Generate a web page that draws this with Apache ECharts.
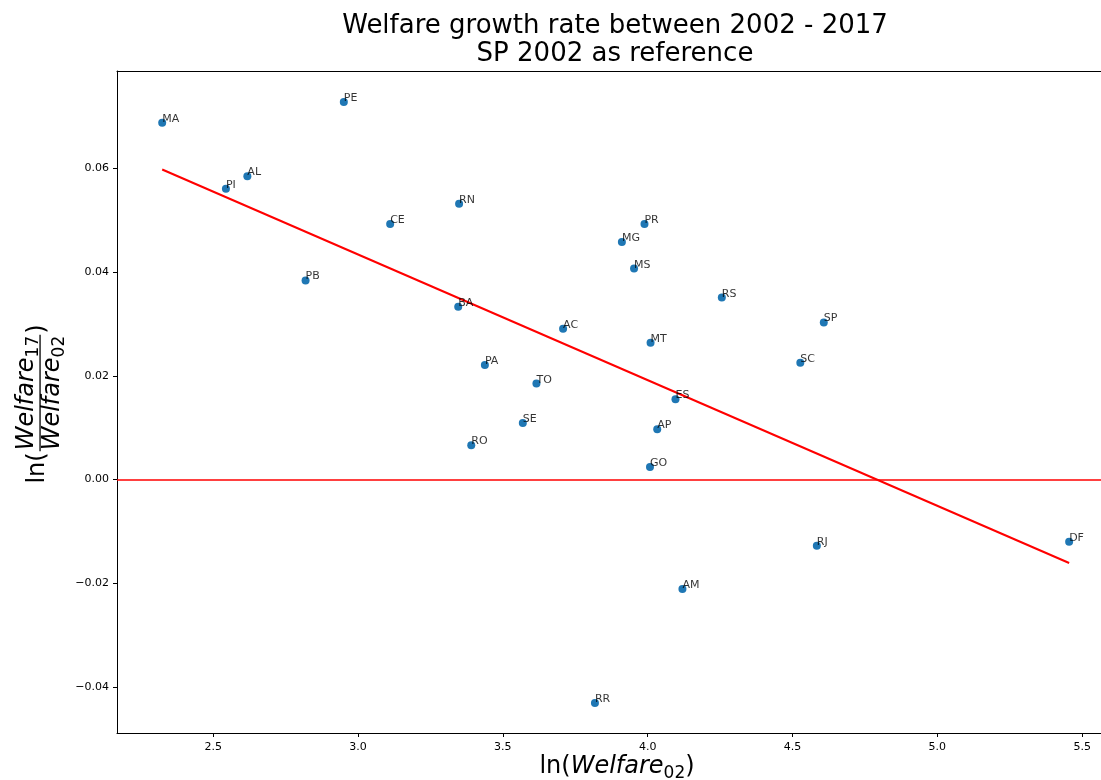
<!DOCTYPE html>
<html>
<head>
<meta charset="utf-8">
<script src="https://cdn.jsdelivr.net/npm/echarts@6/dist/echarts.min.js"></script>
<style>
  html, body { margin: 0; padding: 0; background: #fff; }
  #chart { width: 1101px; height: 780px; }
</style>
</head>
<body>
<div id="chart"></div>
<script>
// Brazilian states: log of 2002 welfare vs. log growth of welfare 2002-2017
const states = ['MA', 'PE', 'AL', 'PI', 'CE', 'PB', 'RN', 'PR', 'MG', 'MS', 'RS', 'BA', 'AC', 'MT',
                'PA', 'TO', 'ES', 'SE', 'AP', 'RO', 'GO', 'SP', 'SC', 'RJ', 'DF', 'AM', 'RR'];
const lnWelfare02 = [2.324, 2.951, 2.618, 2.544, 3.111, 2.819, 3.349, 3.989, 3.911, 3.953, 4.256, 3.346, 3.708, 4.010,
                     3.438, 3.616, 4.096, 3.569, 4.033, 3.391, 4.008, 4.608, 4.527, 4.584, 5.455, 4.120, 3.818];
const growth = [0.0688, 0.0728, 0.0585, 0.0561, 0.0493, 0.0384, 0.0532, 0.0493, 0.0458, 0.0407, 0.0351, 0.0333, 0.0291, 0.0264,
                0.0221, 0.0185, 0.0155, 0.0109, 0.0097, 0.0066, 0.0024, 0.0303, 0.0225, -0.0128, -0.0120, -0.0211, -0.0431];

// fitted trend line end points
const fitX = [2.324, 5.455];
const fitY = [0.0598, -0.0161];

// visible axis window and ticks
const xLimits = [2.168, 5.565];
const yLimits = [-0.0489, 0.0788];
const xTicks = [2.5, 3.0, 3.5, 4.0, 4.5, 5.0, 5.5];
const yTicks = [-0.04, -0.02, 0.00, 0.02, 0.04, 0.06];

const FONT = 'DejaVu Sans';
const points = states.map((s, i) => ({ name: s, value: [lnWelfare02[i], growth[i]] }));
const fitLine = fitX.map((x, i) => [x, fitY[i]]);

const measureCtx = document.createElement('canvas').getContext('2d');
function textWidth(t, size, style) {
  measureCtx.font = (style || 'normal') + ' ' + size + 'px "' + FONT + '"';
  return measureCtx.measureText(t).width;
}
function runWidth(pieces) {
  return pieces.reduce((s, p) => s + textWidth(p.text, p.size, p.style), 0);
}
// lay out text pieces left to right along one baseline
function runs(pieces, x0, baseline) {
  let x = x0;
  const out = [];
  pieces.forEach(p => {
    out.push({
      type: 'text', silent: true, x: x, y: baseline + (p.dy || 0) - 0.346 * p.size,
      style: { text: p.text, fontSize: p.size, fontFamily: FONT, fontStyle: p.style || 'normal',
               fill: '#000', align: 'left', verticalAlign: 'middle' }
    });
    x += textWidth(p.text, p.size, p.style);
  });
  return out;
}

// x axis title: ln(Welfare_02)
const xName = [
  { text: 'ln(', size: 24 },
  { text: 'Welfare', size: 24, style: 'italic' },
  { text: '02', size: 17, dy: 4 },
  { text: ')', size: 24 }
];
const xNameW = runWidth(xName);
const xNameEls = runs(xName, 617 - xNameW / 2, 775);

// y axis title: ln(Welfare_17 / Welfare_02), rotated
const lnPart = [{ text: 'ln(', size: 24 }];
const numPart = [{ text: 'Welfare', size: 24, style: 'italic' }, { text: '17', size: 17, dy: 4 }];
const denPart = [{ text: 'Welfare', size: 24, style: 'italic' }, { text: '02', size: 17, dy: 4 }];
const closePart = [{ text: ')', size: 24 }];
const lnW = runWidth(lnPart);
const numW = runWidth(numPart);
const denW = runWidth(denPart);
const fracW = Math.max(numW, denW) + 4;
const yNameLen = lnW + fracW + runWidth(closePart);
const yNameChildren = [].concat(
  runs(lnPart, 0, 0),
  runs(numPart, lnW + (fracW - numW) / 2, -11),
  [{ type: 'rect', silent: true, shape: { x: lnW + 1, y: -6.6, width: fracW - 2, height: 1.3 }, style: { fill: '#000' } }],
  runs(denPart, lnW + (fracW - denW) / 2, 15),
  runs(closePart, lnW + fracW, 0)
);

const spine = { show: true, onZero: false, lineStyle: { color: '#000', width: 1 } };

const chart = echarts.init(document.getElementById('chart'), null, { renderer: 'canvas' });
chart.setOption({
  animation: false,
  backgroundColor: '#fff',
  title: {
    text: 'Welfare growth rate between 2002 - 2017\nSP 2002 as reference',
    left: 615, top: 12, textAlign: 'center', padding: 0, itemGap: 0,
    textStyle: { fontFamily: FONT, fontSize: 26, fontWeight: 'normal', color: '#000', lineHeight: 28 }
  },
  grid: { left: 117, right: 0, top: 71, bottom: 47, show: false },
  xAxis: [
    {
      type: 'value', position: 'bottom', min: xLimits[0], max: xLimits[1],
      axisLine: spine,
      axisTick: { show: true, customValues: xTicks, length: 4, lineStyle: { color: '#000', width: 1 } },
      axisLabel: { customValues: xTicks, formatter: v => v.toFixed(1), fontFamily: FONT, fontSize: 11, color: '#000', margin: 9 },
      splitLine: { show: false }
    },
    {
      // top frame edge
      type: 'value', position: 'top', min: xLimits[0], max: xLimits[1],
      axisLine: spine, axisTick: { show: false }, axisLabel: { show: false }, splitLine: { show: false }
    }
  ],
  yAxis: {
    type: 'value', min: yLimits[0], max: yLimits[1],
    axisLine: spine,
    axisTick: { show: true, customValues: yTicks, length: 4, lineStyle: { color: '#000', width: 1 } },
    axisLabel: {
      customValues: yTicks,
      formatter: v => (v < 0 ? '\u2212' : '') + Math.abs(v).toFixed(2),
      fontFamily: FONT, fontSize: 11, color: '#000', margin: 8
    },
    splitLine: { show: false }
  },
  series: [
    {
      type: 'scatter', z: 1, data: points, symbolSize: 8,
      itemStyle: { color: '#1f77b4', opacity: 1 }, label: { show: false }, silent: true
    },
    {
      type: 'line', z: 2, data: fitLine, showSymbol: false, silent: true,
      lineStyle: { color: '#ff0000', width: 2 },
      markLine: {
        silent: true, symbol: ['none', 'none'], label: { show: false },
        lineStyle: { color: '#ff0000', width: 1.5, type: 'solid' },
        data: [{ yAxis: 0 }]
      }
    },
    {
      type: 'scatter', z: 3, data: points, symbolSize: 8, silent: true,
      itemStyle: { color: 'rgba(0,0,0,0)' },
      label: {
        show: true, formatter: '{b}', position: [4, 0.2], align: 'left', verticalAlign: 'middle',
        fontFamily: FONT, fontSize: 11, color: '#000'
      }
    }
  ],
  graphic: [
    { type: 'group', silent: true, children: xNameEls },
    { type: 'group', silent: true, x: 46, y: 404 + yNameLen / 2, rotation: Math.PI / 2, children: yNameChildren }
  ]
});
</script>
</body>
</html>
